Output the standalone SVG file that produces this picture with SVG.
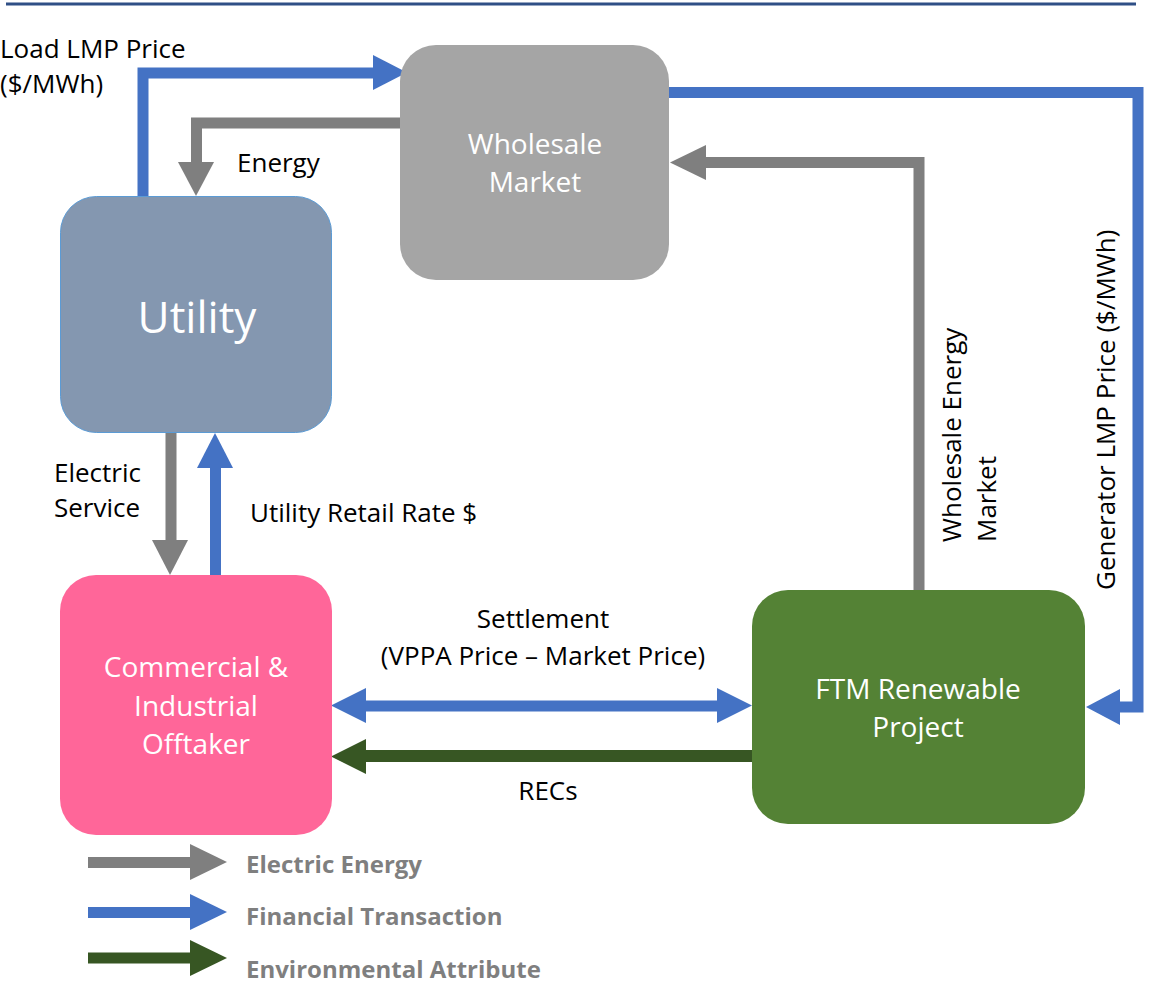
<svg xmlns="http://www.w3.org/2000/svg" width="1153" height="988" viewBox="0 0 1153 988">
<style>
.lbl{font-family:"Open Sans","Liberation Sans",sans-serif;font-size:26px;fill:#000}
.node{font-family:"Open Sans","Liberation Sans",sans-serif;font-size:28px;fill:#fff;text-anchor:middle}
.leg{font-family:"Open Sans","Liberation Sans",sans-serif;font-size:24px;font-weight:bold;fill:#7F7F7F}
.blue{fill:#4472C4}
.gray{fill:#7F7F7F}
.green{fill:#375623}
.bl{fill:none;stroke:#4472C4;stroke-width:11}
.gl{fill:none;stroke:#7F7F7F;stroke-width:11}
</style>
<rect width="1153" height="988" fill="#fff"/>
<line x1="6" y1="4" x2="1136" y2="4" stroke="#2F4F86" stroke-width="3"/>

<g id="connectors">
  <!-- Load LMP Price -->
  <polyline class="bl" points="143,196 143,73 375,73"/>
  <polygon class="blue" points="373,55 407,72.5 373,90"/>
  <!-- Energy -->
  <polyline class="gl" points="406,123 196.5,123 196.5,164"/>
  <polygon class="gray" points="178,162 214,162 196,196"/>
  <!-- Generator LMP -->
  <polyline class="bl" points="664,92.5 1138,92.5 1138,707 1118,707"/>
  <polygon class="blue" points="1120,689 1120,725 1086,707"/>
  <!-- Wholesale Energy Market -->
  <polyline class="gl" points="919,590 919,162.5 704,162.5"/>
  <polygon class="gray" points="706,145 706,180 670,162.5"/>
  <!-- Electric Service -->
  <line class="gl" x1="171" y1="432" x2="171" y2="542"/>
  <polygon class="gray" points="152,540 188,540 170,575"/>
  <!-- Utility Retail Rate -->
  <line class="bl" x1="215.5" y1="575" x2="215.5" y2="466"/>
  <polygon class="blue" points="197,468 233,468 215,433"/>
  <!-- Settlement -->
  <line class="bl" x1="364" y1="706" x2="719" y2="706"/>
  <polygon class="blue" points="366,688 366,723 331,705.5"/>
  <polygon class="blue" points="717,688 717,723 752,705.5"/>
  <!-- RECs -->
  <line x1="752" y1="756" x2="364" y2="756" stroke="#375623" stroke-width="12"/>
  <polygon class="green" points="366,739 366,774 331,756.5"/>
</g>

<g id="wholesale">
  <rect x="400" y="45" width="269" height="235" rx="36" fill="#A5A5A5"/>
  <text class="node" x="535" y="154">Wholesale</text>
  <text class="node" x="535" y="192">Market</text>
</g>
<g id="utility">
  <rect x="60.5" y="196.5" width="271" height="236" rx="36" fill="#8497B0" stroke="#5B9BD5" stroke-width="1"/>
  <text class="node" x="197" y="333" style="font-size:44px">Utility</text>
</g>
<g id="offtaker">
  <rect x="60" y="575" width="272" height="260" rx="36" fill="#FF6699"/>
  <text class="node" x="196" y="677">Commercial &amp;</text>
  <text class="node" x="196" y="716">Industrial</text>
  <text class="node" x="196" y="754">Offtaker</text>
</g>
<g id="ftm">
  <rect x="752" y="590" width="333" height="234" rx="36" fill="#548235"/>
  <text class="node" x="918" y="699">FTM Renewable</text>
  <text class="node" x="918" y="737">Project</text>
</g>

<g id="labels">
  <text class="lbl" x="0" y="58">Load LMP Price</text>
  <text class="lbl" x="0" y="93">($/MWh)</text>
  <text class="lbl" x="237" y="172">Energy</text>
  <text class="lbl" x="54" y="482">Electric</text>
  <text class="lbl" x="54" y="517">Service</text>
  <text class="lbl" x="250" y="522">Utility Retail Rate $</text>
  <text class="lbl" x="543" y="628" text-anchor="middle">Settlement</text>
  <text class="lbl" x="543" y="665" text-anchor="middle">(VPPA Price – Market Price)</text>
  <text class="lbl" x="548" y="800" text-anchor="middle">RECs</text>
  <text class="lbl" transform="translate(961,542) rotate(-90)">Wholesale Energy</text>
  <text class="lbl" transform="translate(996,542) rotate(-90)">Market</text>
  <text class="lbl" transform="translate(1115,590) rotate(-90)">Generator LMP Price ($/MWh)</text>
</g>

<g id="legend">
  <line x1="88" y1="862.5" x2="192" y2="862.5" stroke="#7F7F7F" stroke-width="11"/>
  <polygon class="gray" points="190,844 190,880 227,862"/>
  <text class="leg" x="246" y="873">Electric Energy</text>
  <line x1="88" y1="912.5" x2="192" y2="912.5" stroke="#4472C4" stroke-width="11"/>
  <polygon class="blue" points="190,894 190,930 227,912"/>
  <text class="leg" x="246" y="925">Financial Transaction</text>
  <line x1="88" y1="958" x2="192" y2="958" stroke="#375623" stroke-width="11"/>
  <polygon class="green" points="190,940 190,976 227,958"/>
  <text class="leg" x="246" y="978">Environmental Attribute</text>
</g>
</svg>
